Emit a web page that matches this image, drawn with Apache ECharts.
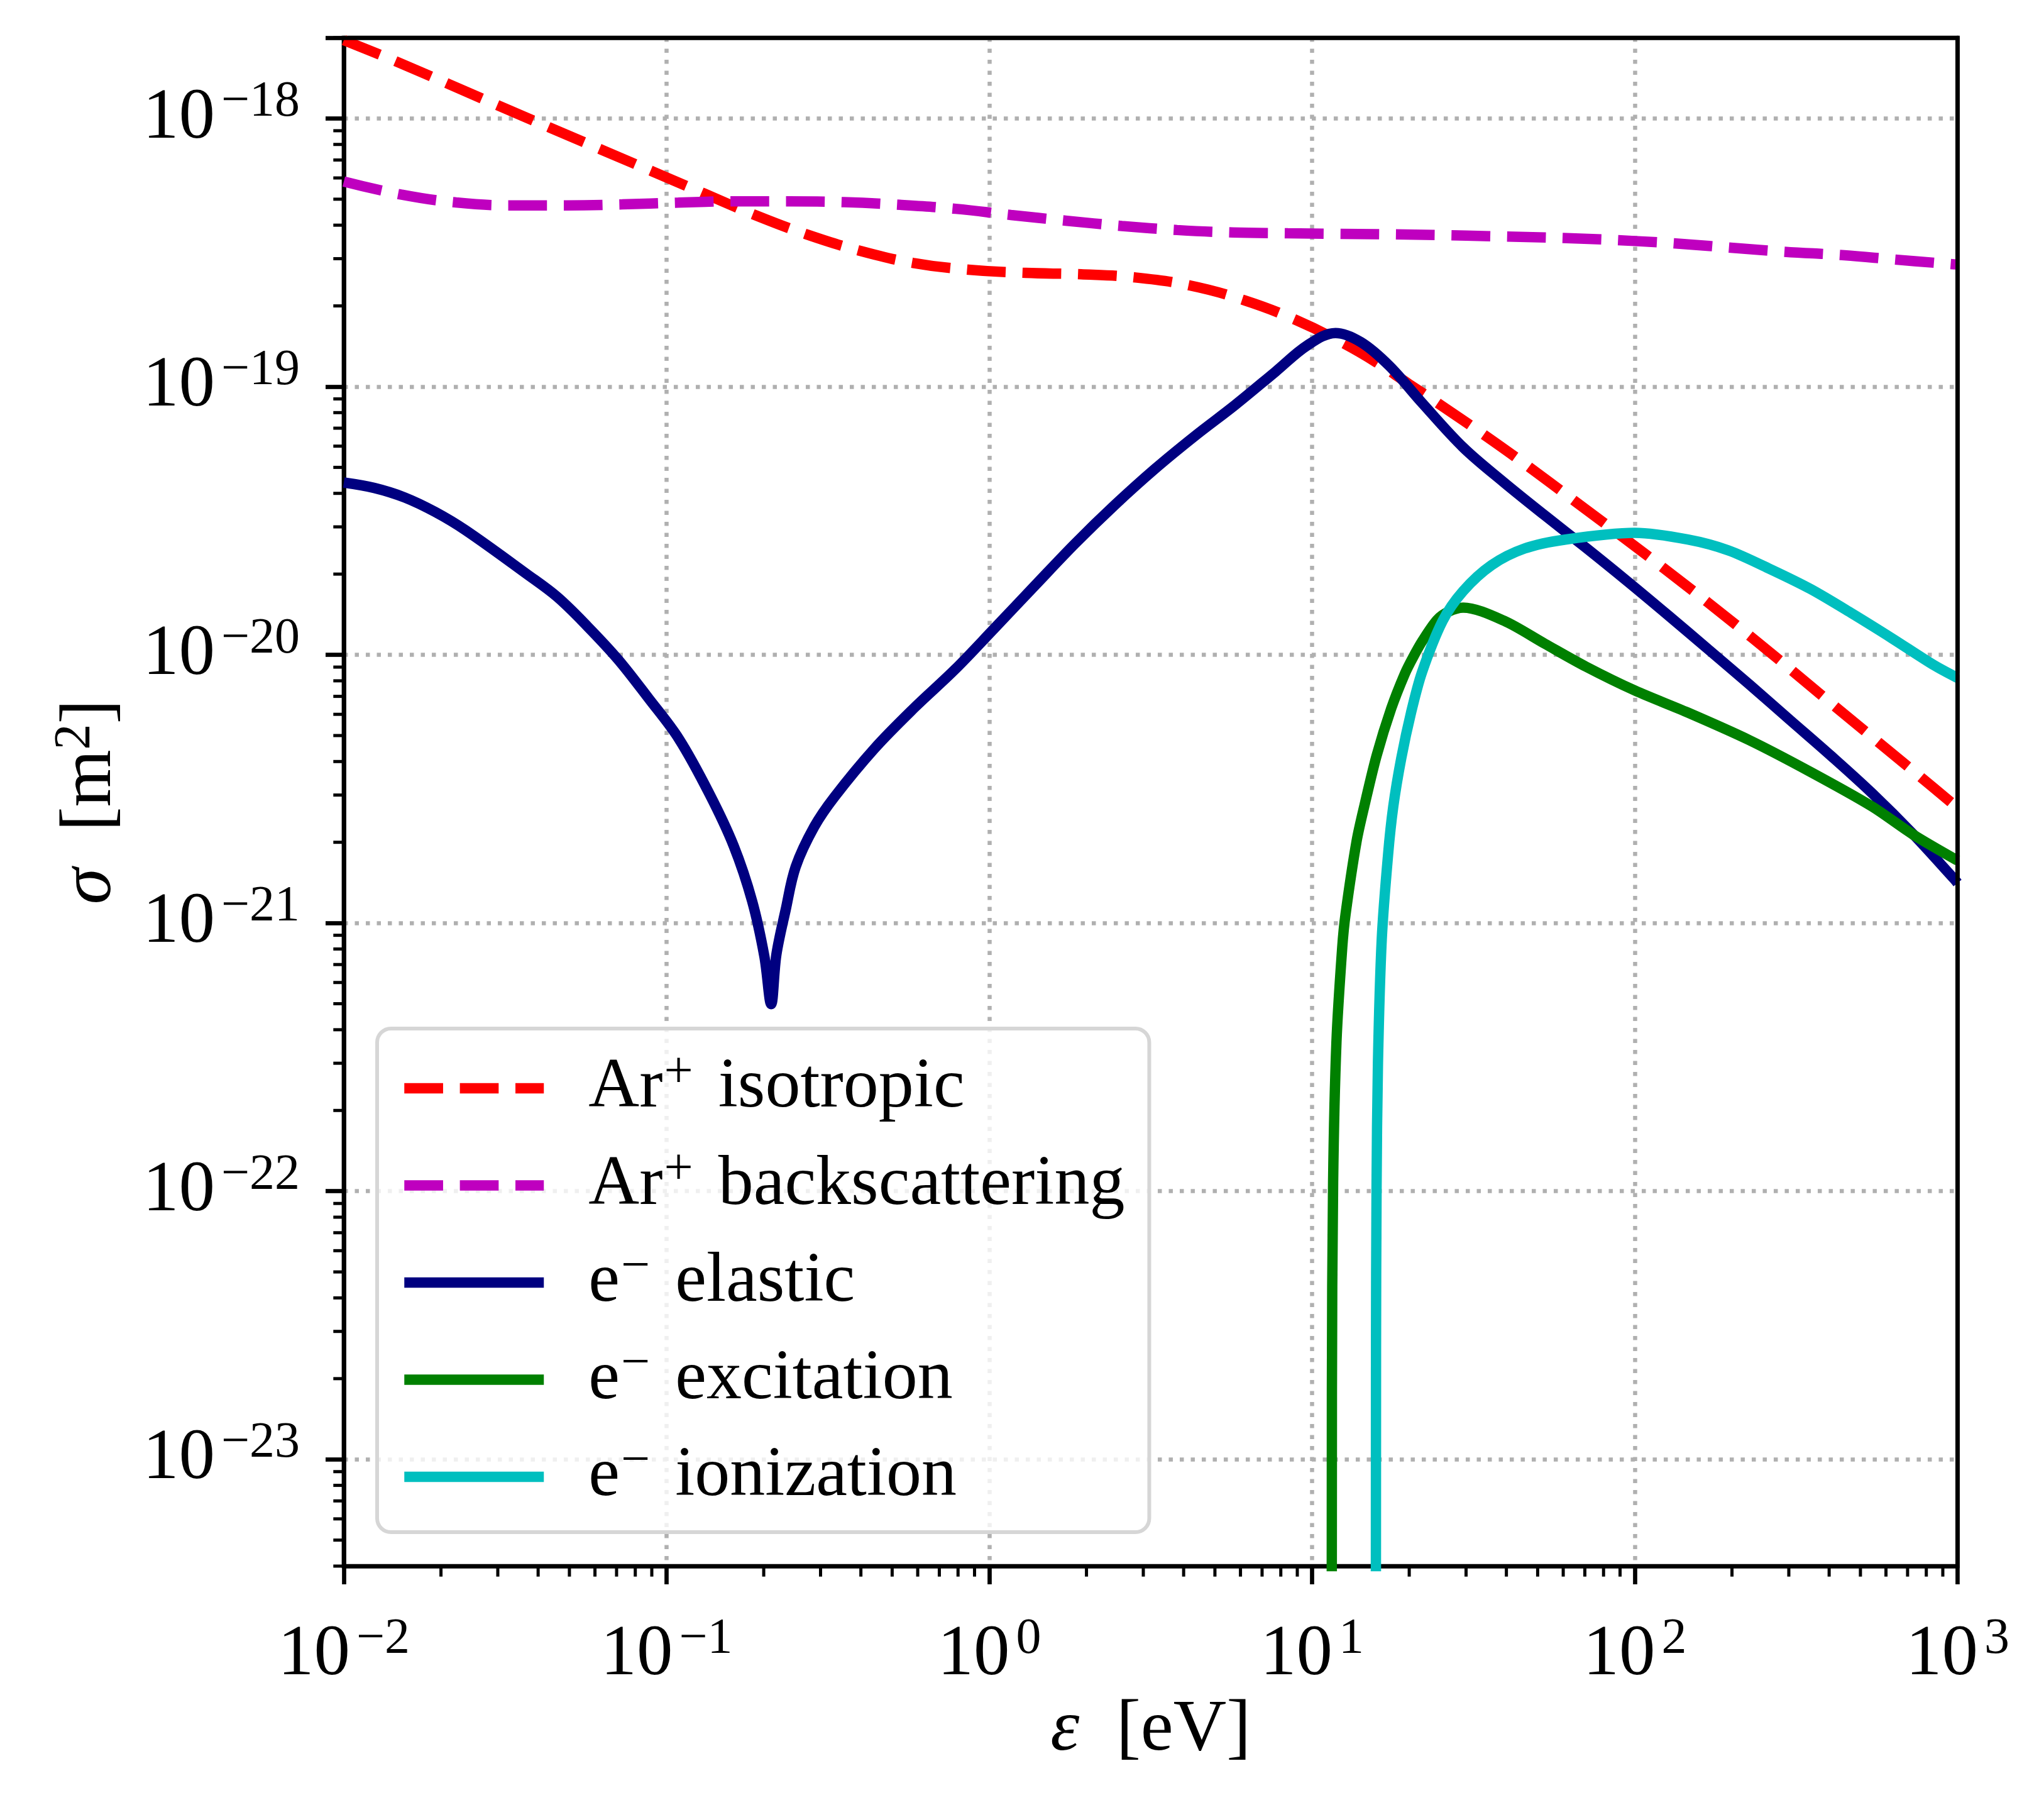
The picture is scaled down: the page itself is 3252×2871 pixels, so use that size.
<!DOCTYPE html>
<html>
<head>
<meta charset="utf-8">
<script src="https://cdn.jsdelivr.net/npm/echarts@6/dist/echarts.min.js"></script>
<style>
html, body { margin: 0; padding: 0; background: #fff; }
#chart { width: 3252px; height: 2871px; }
</style>
</head>
<body>
<div id="chart"></div>
<script>
// cross sections: energy [eV] / sigma [m^2]
var isoE = [0.01, 0.01476, 0.03027, 0.06266, 0.1303, 0.1879, 0.271, 0.3963, 0.5821, 0.863, 1.297, 1.923, 2.838, 4.178, 6.166, 8.974, 12.59, 15.85, 19.95, 25.12, 33.25, 44.67, 64.97, 122.9, 228.3, 419.8, 772.1, 1000];
var isoS = [1.959e-18, 1.618e-18, 1.114e-18, 7.66e-19, 5.26e-19, 4.365e-19, 3.70e-19, 3.214e-19, 2.891e-19, 2.729e-19, 2.655e-19, 2.624e-19, 2.553e-19, 2.384e-19, 2.099e-19, 1.766e-19, 1.445e-19, 1.230e-19, 1.023e-19, 8.51e-20, 6.76e-20, 5.25e-20, 3.753e-20, 2.104e-20, 1.170e-20, 6.38e-21, 3.483e-21, 2.69e-21];

var backE = [0.01, 0.01503, 0.02228, 0.03304, 0.04898, 0.07295, 0.1086, 0.1607, 0.2382, 0.3548, 0.5284, 0.787, 1.167, 1.722, 2.576, 3.819, 5.689, 8.414, 30, 100, 290, 446, 637, 1000];
var backS = [5.82e-19, 5.204e-19, 4.861e-19, 4.742e-19, 4.742e-19, 4.781e-19, 4.853e-19, 4.909e-19, 4.909e-19, 4.875e-19, 4.764e-19, 4.603e-19, 4.365e-19, 4.159e-19, 3.972e-19, 3.837e-19, 3.758e-19, 3.733e-19, 3.656e-19, 3.491e-19, 3.184e-19, 3.09e-19, 2.979e-19, 2.851e-19];

var elasE = [0.01, 0.01243, 0.01545, 0.01919, 0.02388, 0.0369, 0.04581, 0.05689, 0.07079, 0.0879, 0.1092, 0.1358, 0.1614, 0.1841, 0.2009, 0.2109, 0.2188, 0.2339, 0.2512, 0.2871, 0.3311, 0.4406, 0.5861, 0.7816, 1.04, 1.384, 1.841, 2.449, 3.264, 4.345, 5.781, 7.691, 9.674, 11.82, 14.16, 17.37, 21.93, 29.37, 39.26, 52.63, 70.47, 94.3, 126.3, 169.0, 226.2, 302.7, 405.5, 542.9, 726.6, 972.8, 1000];
var elasS = [4.39e-20, 4.19e-20, 3.86e-20, 3.41e-20, 2.91e-20, 2.0e-20, 1.645e-20, 1.276e-20, 9.6e-21, 6.89e-21, 4.86e-21, 3.03e-21, 1.94e-21, 1.208e-21, 7.52e-22, 4.98e-22, 7.6e-22, 1.12e-21, 1.62e-21, 2.29e-21, 2.95e-21, 4.47e-21, 6.35e-21, 8.8e-21, 1.26e-20, 1.811e-20, 2.594e-20, 3.622e-20, 4.943e-20, 6.56e-20, 8.55e-20, 1.135e-19, 1.426e-19, 1.585e-19, 1.466e-19, 1.194e-19, 8.69e-20, 5.94e-20, 4.4e-20, 3.31e-20, 2.51e-20, 1.89e-20, 1.41e-20, 1.047e-20, 7.76e-21, 5.71e-21, 4.2e-21, 3.05e-21, 2.15e-21, 1.466e-21, 1.41e-21];

var excE = [11.5, 11.52, 11.62, 11.9, 12.4, 12.7, 13.74, 14.59, 15.84, 17.58, 19.38, 20.56, 22.0, 24.4, 26.5, 29.4, 39.3, 52.6, 70.5, 100, 146, 226, 350, 543, 727, 1000];
var excS = [1e-25, 1.8e-23, 1.08e-22, 3.6e-22, 8.1e-22, 1.08e-21, 2.02e-21, 2.8e-21, 4.2e-21, 6.3e-21, 8.5e-21, 9.8e-21, 1.13e-20, 1.35e-20, 1.45e-20, 1.50e-20, 1.34e-20, 1.10e-20, 9.04e-21, 7.36e-21, 6.09e-21, 4.81e-21, 3.66e-21, 2.72e-21, 2.14e-21, 1.71e-21];

var ionE = [15.76, 15.78, 15.84, 16.0, 16.44, 17.2, 17.85, 18.9, 20.27, 21.9, 25.4, 29.4, 36.0, 45.5, 60.9, 100, 146, 195, 262, 350, 469, 628, 841, 1000];
var ionS = [1e-25, 2.5e-23, 1e-22, 3e-22, 8.7e-22, 1.8e-21, 2.72e-21, 4.12e-21, 6.1e-21, 8.6e-21, 1.34e-20, 1.73e-20, 2.16e-20, 2.49e-20, 2.69e-20, 2.85e-20, 2.69e-20, 2.45e-20, 2.09e-20, 1.76e-20, 1.43e-20, 1.15e-20, 9.18e-21, 8.2e-21];

var names = ['Ar+ isotropic', 'Ar+ backscattering', 'e- elastic', 'e- excitation', 'e- ionization'];

// axes
var xMin = 1e-2, xMax = 1e3;
var yMin = 4e-24, yMax = 2e-18;
var xTickExps = [-2, -1, 0, 1, 2, 3];
var yTickExps = [-23, -22, -21, -20, -19, -18];
var minorMant = [2, 3, 4, 5, 6, 7, 8, 9];

var FONT = 'Liberation Serif';

function pairs(xs, ys) {
    var out = [];
    for (var i = 0; i < xs.length; i++) out.push([xs[i], ys[i]]);
    return out;
}

function powLabel(exps) {
    return function (v) {
        var l = Math.log10(v);
        var e = Math.round(l);
        if (Math.abs(l - e) > 1e-6 || exps.indexOf(e) < 0) return '';
        return '{b|10}{s|' + (e < 0 ? '\u2212' : '') + Math.abs(e) + '}';
    };
}

var tickRich = {
    b: { fontFamily: FONT, fontSize: 115, lineHeight: 130, color: '#000' },
    s: { fontFamily: FONT, fontSize: 80, lineHeight: 64, verticalAlign: 'top', color: '#000', padding: [0, 0, 0, 10] }
};

// minor ticks (2..9 x 10^n) on the left and bottom spines
var minorTicks = [];
for (var n = -24; n <= -18; n++) {
    minorMant.forEach(function (m) {
        var v = m * Math.pow(10, n);
        if (v >= yMin * 0.999 && v <= yMax * 1.001) minorTicks.push([xMin, v, 0]);
    });
}
for (var n = -2; n < 3; n++) {
    minorMant.forEach(function (m) {
        minorTicks.push([m * Math.pow(10, n), yMin, 1]);
    });
}

var legendText = {
    'Ar+ isotropic': '{g| }{t|Ar}{s|+}{t| isotropic}',
    'Ar+ backscattering': '{g| }{t|Ar}{s|+}{t| backscattering}',
    'e- elastic': '{g| }{t|e}{s|\u2212}{t| elastic}',
    'e- excitation': '{g| }{t|e}{s|\u2212}{t| excitation}',
    'e- ionization': '{g| }{t|e}{s|\u2212}{t| ionization}'
};

var LW = 16.5;
var DASH = [61.7, 26.7];

var spine = { show: true, onZero: false, lineStyle: { color: '#000', width: 6.7 } };
var gridLine = { show: true, showMinLine: false, showMaxLine: false, lineStyle: { color: '#b0b0b0', width: 6.5, type: [6.5, 11] } };

var myChart = echarts.init(document.getElementById('chart'));
var option = {
    animation: false,
    backgroundColor: '#fff',
    grid: {
        left: 547, top: 60, width: 2567.5, height: 2431,
        show: true, borderColor: '#000', borderWidth: 6.7,
        outerBoundsMode: 'none'
    },
    legend: {
        data: names,
        orient: 'vertical',
        left: 600, top: 1636,
        padding: [30, 39, 32, 35],
        itemGap: 33.5,
        itemWidth: 222,
        itemHeight: 17,
        backgroundColor: 'rgba(255,255,255,0.8)',
        borderColor: '#d6d6d6',
        borderWidth: 6,
        borderRadius: 22,
        lineStyle: { width: 'inherit' },
        formatter: function (name) { return legendText[name]; },
        textStyle: {
            fontFamily: FONT, color: '#000',
            rich: {
                g: { width: 66, fontSize: 20, lineHeight: 130 },
                t: { fontFamily: FONT, fontSize: 112, lineHeight: 130, color: '#000' },
                s: { fontFamily: FONT, fontSize: 82, lineHeight: 66, verticalAlign: 'top', color: '#000', padding: [0, 12, 0, 2] }
            }
        }
    },
    xAxis: [{
        type: 'log', logBase: 10, min: xMin, max: xMax,
        name: '{i|\u03b5}{r|  [eV]}',
        nameLocation: 'middle', nameGap: 196, nameMoveOverlap: false,
        nameTextStyle: {
            rich: {
                i: { fontFamily: FONT, fontStyle: 'italic', fontSize: 117, lineHeight: 130, color: '#000' },
                r: { fontFamily: FONT, fontSize: 117, lineHeight: 130, color: '#000' }
            }
        },
        axisLine: spine,
        axisTick: { show: true, length: 29, lineStyle: { color: '#000', width: 6.7 } },
        axisLabel: { margin: 77, formatter: powLabel(xTickExps), rich: tickRich },
        splitLine: gridLine
    }, {
        // top spine
        type: 'log', logBase: 10, min: xMin, max: xMax, position: 'top', z: 10,
        axisLine: spine, axisTick: { show: false }, axisLabel: { show: false }, splitLine: { show: false }
    }],
    yAxis: [{
        type: 'log', logBase: 10, min: yMin, max: yMax,
        name: '{i|\u03c3}{r|  [m}{s|2}{r|]}',
        nameLocation: 'middle', nameGap: 338, nameMoveOverlap: false,
        nameTextStyle: {
            rich: {
                i: { fontFamily: FONT, fontStyle: 'italic', fontSize: 117, lineHeight: 130, color: '#000' },
                r: { fontFamily: FONT, fontSize: 117, lineHeight: 130, color: '#000' },
                s: { fontFamily: FONT, fontSize: 82, lineHeight: 66, verticalAlign: 'top', color: '#000' }
            }
        },
        axisLine: spine,
        axisTick: { show: true, length: 29, lineStyle: { color: '#000', width: 6.7 } },
        axisLabel: { margin: 70, formatter: powLabel(yTickExps), rich: tickRich },
        splitLine: gridLine
    }, {
        // right spine
        type: 'log', logBase: 10, min: yMin, max: yMax, position: 'right', z: 10,
        axisLine: spine, axisTick: { show: false }, axisLabel: { show: false }, splitLine: { show: false }
    }],
    series: [
        {
            name: names[0], type: 'line', data: pairs(isoE, isoS),
            symbol: 'none', smooth: 0.4,
            itemStyle: { color: '#ff0000' },
            lineStyle: { color: '#ff0000', width: LW, type: DASH }
        },
        {
            name: names[1], type: 'line', data: pairs(backE, backS),
            symbol: 'none', smooth: 0.4,
            itemStyle: { color: '#bf00bf' },
            lineStyle: { color: '#bf00bf', width: LW, type: DASH }
        },
        {
            name: names[2], type: 'line', data: pairs(elasE, elasS),
            symbol: 'none', smooth: 0.35,
            itemStyle: { color: '#000080' },
            lineStyle: { color: '#000080', width: LW }
        },
        {
            name: names[3], type: 'line', data: pairs(excE, excS),
            symbol: 'none', smooth: 0.3,
            itemStyle: { color: '#008000' },
            lineStyle: { color: '#008000', width: LW }
        },
        {
            name: names[4], type: 'line', data: pairs(ionE, ionS),
            symbol: 'none', smooth: 0.3,
            itemStyle: { color: '#00bfbf' },
            lineStyle: { color: '#00bfbf', width: LW }
        },
        {
            type: 'custom', silent: true, z: 5,
            data: minorTicks,
            renderItem: function (params, api) {
                var p = api.coord([api.value(0), api.value(1)]);
                var k = api.value(2);
                var shape = k === 0
                    ? { x1: p[0] - 16.7, y1: p[1], x2: p[0], y2: p[1] }
                    : { x1: p[0], y1: p[1], x2: p[0], y2: p[1] + 16.7 };
                return { type: 'line', shape: shape, style: { stroke: '#000', lineWidth: 5 } };
            }
        }
    ]
};
myChart.setOption(option);
</script>
</body>
</html>
